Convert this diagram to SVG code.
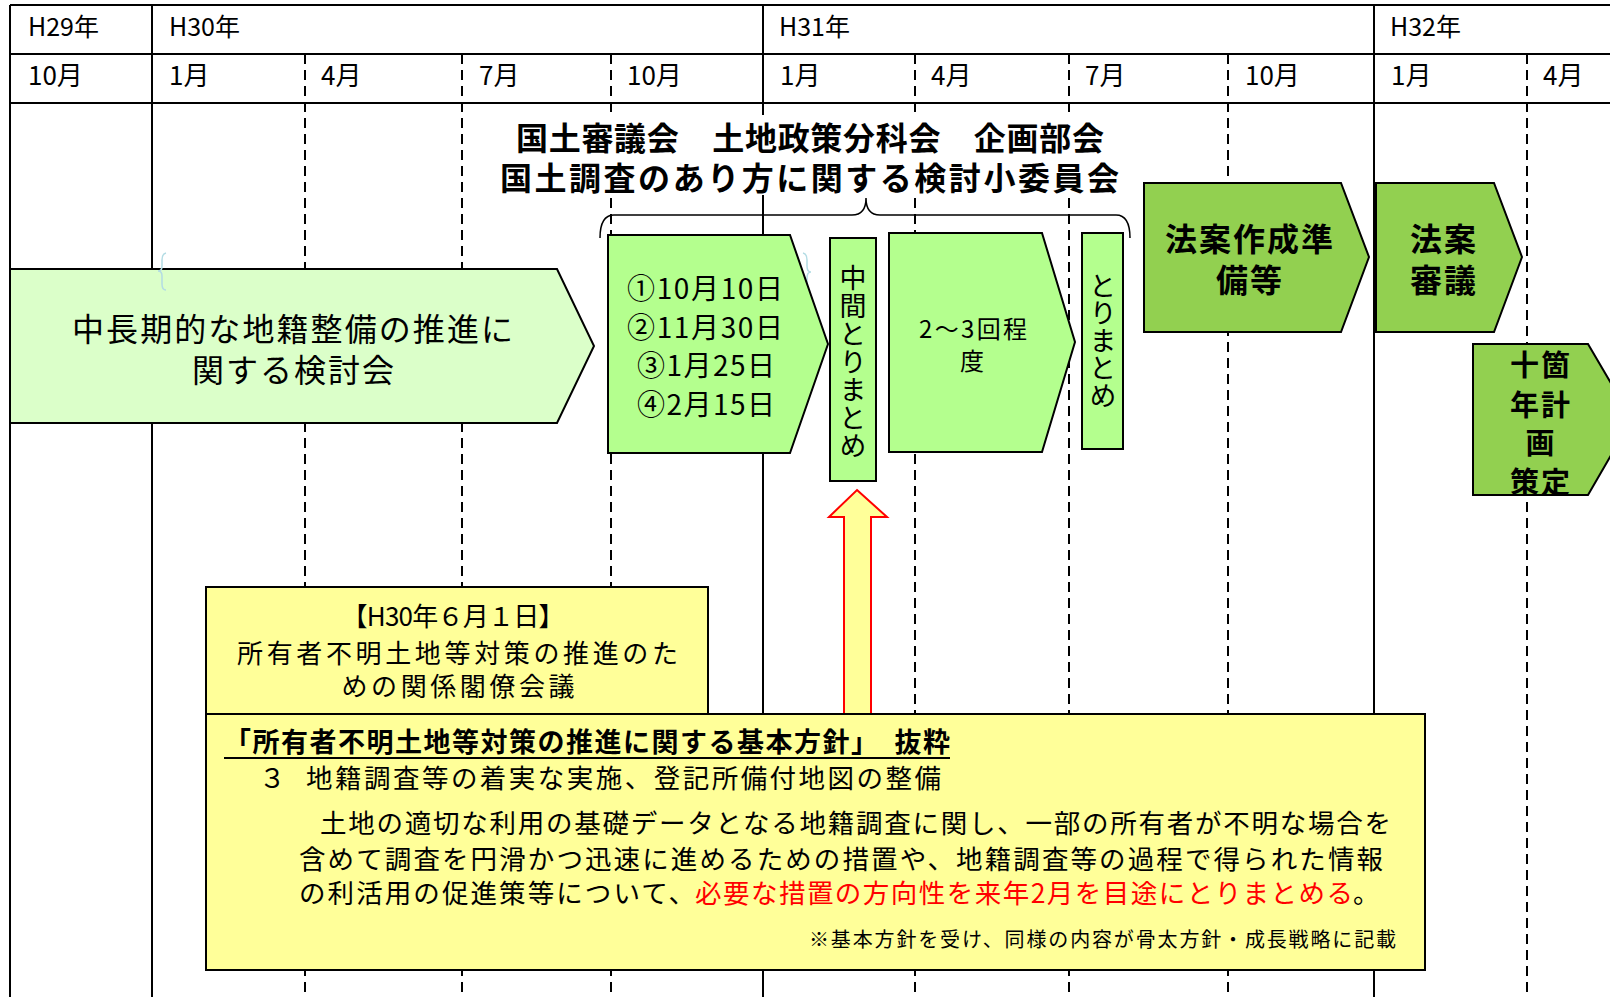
<svg xmlns="http://www.w3.org/2000/svg" width="1610" height="997" viewBox="0 0 1610 997">
<style>
text { font-family: "Noto Sans CJK JP", "Noto Sans", sans-serif; fill: #000; }
.hdr { font-size: 25px; }
.mon { font-size: 26px; }
.solid { stroke: #000; stroke-width: 2; fill: none; }
.dash { stroke: #000; stroke-width: 2; stroke-dasharray: 10 6; fill: none; }
.g1 { fill: #DBFFC9; stroke: #000; stroke-width: 2; }
.g2 { fill: #B4FF8E; stroke: #000; stroke-width: 2; }
.g3 { fill: #92D050; stroke: #000; stroke-width: 2; }
.yl { fill: #FFFF99; stroke: #000; stroke-width: 2; }
.c { text-anchor: middle; }
.b { font-weight: bold; }
.vt { writing-mode: vertical-rl; font-size: 27px; }
.faint { fill: none; stroke: #B3DCE4; stroke-width: 1.5; }
</style>
<rect x="0" y="0" width="1610" height="997" fill="#fff"/>

<g id="grid">
  <path class="solid" d="M10 5H1610M10 54H1610M10 103H1610"/>
  <path class="solid" d="M10 5V997M152 5V997M763 5V997M1374 5V997"/>
  <path class="dash" d="M305 54V997M462 54V997M611 54V997M915 54V997M1069 54V997M1228 54V997M1527 54V997"/>
</g>

<g id="header">
  <text class="hdr" x="28" y="36">H29年</text>
  <text class="hdr" x="169" y="36">H30年</text>
  <text class="hdr" x="779" y="36">H31年</text>
  <text class="hdr" x="1390" y="36">H32年</text>
  <text class="mon" x="28" y="85">10月</text>
  <text class="mon" x="169" y="85">1月</text>
  <text class="mon" x="321" y="85">4月</text>
  <text class="mon" x="479" y="85">7月</text>
  <text class="mon" x="627" y="85">10月</text>
  <text class="mon" x="780" y="85">1月</text>
  <text class="mon" x="931" y="85">4月</text>
  <text class="mon" x="1085" y="85">7月</text>
  <text class="mon" x="1245" y="85">10月</text>
  <text class="mon" x="1391" y="85">1月</text>
  <text class="mon" x="1543" y="85">4月</text>
</g>

<g id="title">
  <rect x="490" y="115" width="645" height="80" fill="#fff"/>
  <text class="b" font-size="32"><tspan x="516" y="150" textLength="588" lengthAdjust="spacing">国土審議会　土地政策分科会　企画部会</tspan><tspan x="500" y="190" textLength="619" lengthAdjust="spacing">国土調査のあり方に関する検討小委員会</tspan></text>
</g>

<g id="connectors">
  <path d="M600 238Q600 215 614 215L852 215Q866 215 866 198Q866 215 880 215L1116 215Q1130 215 1130 238" fill="none" stroke="#000" stroke-width="1.5"/>
  <polygon points="857,490 887,517 871,517 871,714 844,714 844,517 829,517" fill="#FFFF99" stroke="#FF0000" stroke-width="2"/>
</g>

<g id="node-kentoukai">
  <polygon class="g1" points="10,269 557,269 594,346 557,423 10,423"/>
  <text class="c" font-size="32"><tspan x="292.5" y="341" textLength="441" lengthAdjust="spacing">中長期的な地籍整備の推進に</tspan><tspan x="293" y="382" textLength="202" lengthAdjust="spacing">関する検討会</tspan></text>
</g>

<path class="faint" d="M166 253Q162 254 162 260L162 266Q162 271 158 271Q162 271 162 276L162 284Q162 290 166 290"/>
<path class="faint" d="M803 253Q807 254 807 260L807 266Q807 272 811 272Q807 272 807 278L807 285Q807 291 803 291"/>

<g id="node-dates">
  <polygon class="g2" points="608,235 790,235 828,344 790,453 608,453"/>
  <text class="c" font-size="28"><tspan x="705" y="299" textLength="156" lengthAdjust="spacing">①10月10日</tspan><tspan x="705" y="338" textLength="156" lengthAdjust="spacing">②11月30日</tspan><tspan x="706" y="376" textLength="138" lengthAdjust="spacing">③1月25日</tspan><tspan x="706" y="415" textLength="138" lengthAdjust="spacing">④2月15日</tspan></text>
</g>

<g id="node-chukan">
  <rect class="g2" x="830" y="238" width="46" height="243"/>
  <text class="vt" x="853" y="264" letter-spacing="1">中間とりまとめ</text>
</g>

<g id="node-kaisu">
  <polygon class="g2" points="889,233 1042,233 1075,342 1042,452 889,452"/>
  <text class="c" font-size="24"><tspan x="973" y="338" textLength="108" lengthAdjust="spacing">2～3回程</tspan><tspan x="972" y="370">度</tspan></text>
</g>

<g id="node-torimatome">
  <rect class="g2" x="1082" y="233" width="41" height="216"/>
  <text class="vt" x="1103" y="272" letter-spacing="0.5">とりまとめ</text>
</g>

<g id="node-houan-junbi">
  <polygon class="g3" points="1144,183 1341,183 1369,257 1341,332 1144,332"/>
  <text class="c b" font-size="32"><tspan x="1249" y="251" textLength="168" lengthAdjust="spacing">法案作成準</tspan><tspan x="1249" y="292" textLength="66" lengthAdjust="spacing">備等</tspan></text>
</g>

<g id="node-houan-shingi">
  <polygon class="g3" points="1376,183 1494,183 1522,257 1494,332 1376,332"/>
  <text class="c b" font-size="32"><tspan x="1443" y="251" textLength="66" lengthAdjust="spacing">法案</tspan><tspan x="1443" y="292" textLength="66" lengthAdjust="spacing">審議</tspan></text>
</g>

<g id="node-jukanen">
  <polygon class="g3" points="1473,344 1588,344 1632,419 1588,495 1473,495"/>
  <text class="c b" font-size="29"><tspan x="1540" y="376" textLength="60" lengthAdjust="spacing">十箇</tspan><tspan x="1540" y="416" textLength="60" lengthAdjust="spacing">年計</tspan><tspan x="1540" y="454">画</tspan><tspan x="1540" y="493" textLength="60" lengthAdjust="spacing">策定</tspan></text>
</g>

<g id="node-kakuryo">
  <rect class="yl" x="206" y="587" width="502" height="127"/>
  <text class="c" font-size="26"><tspan x="453" y="626" textLength="223" lengthAdjust="spacing">【H30年６月１日】</tspan><tspan x="457.5" y="663" textLength="441" lengthAdjust="spacing">所有者不明土地等対策の推進のた</tspan><tspan x="458" y="696" textLength="233" lengthAdjust="spacing">めの関係閣僚会議</tspan></text>
</g>

<g id="node-houshin">
  <rect class="yl" x="206" y="714" width="1219" height="256"/>
  <text x="224" y="752" class="b" font-size="27" textLength="726" lengthAdjust="spacing">「所有者不明土地等対策の推進に関する基本方針」　抜粋</text>
  <line x1="224" y1="758" x2="950" y2="758" stroke="#000" stroke-width="2"/>
  <text font-size="26.5"><tspan x="259" y="788">３　</tspan><tspan x="306" y="788" textLength="635" lengthAdjust="spacing">地籍調査等の着実な実施、登記所備付地図の整備</tspan><tspan x="320" y="833" textLength="1071" lengthAdjust="spacing">土地の適切な利用の基礎データとなる地籍調査に関し、一部の所有者が不明な場合を</tspan><tspan x="299" y="869" textLength="1084" lengthAdjust="spacing">含めて調査を円滑かつ迅速に進めるための措置や、地籍調査等の過程で得られた情報</tspan><tspan x="299" y="903" textLength="396" lengthAdjust="spacing">の利活用の促進策等について、</tspan><tspan x="695" y="903" style="fill:#FF0000" textLength="658" lengthAdjust="spacing">必要な措置の方向性を来年2月を目途にとりまとめる</tspan><tspan x="1353" y="903">。</tspan></text>
  <text x="809" y="947" font-size="20" textLength="587" lengthAdjust="spacing">※基本方針を受け、同様の内容が骨太方針・成長戦略に記載</text>
</g>
</svg>
